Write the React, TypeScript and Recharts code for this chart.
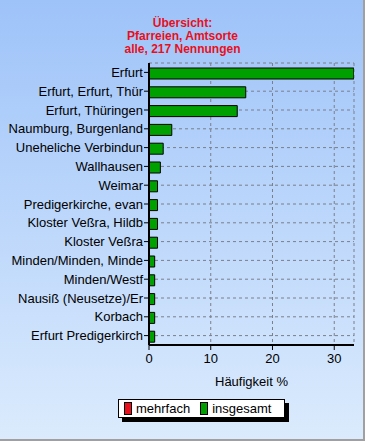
import React from 'react';
import { BarChart, Bar, XAxis, YAxis, CartesianGrid } from 'recharts';

const orte = [
  'Erfurt',
  'Erfurt, Erfurt, Thür',
  'Erfurt, Thüringen',
  'Naumburg, Burgenland',
  'Uneheliche Verbindun',
  'Wallhausen',
  'Weimar',
  'Predigerkirche, evan',
  'Kloster Veßra, Hildb',
  'Kloster Veßra',
  'Minden/Minden, Minde',
  'Minden/Westf',
  'Nausiß (Neusetze)/Er',
  'Korbach',
  'Erfurt Predigerkirch',
];

// Häufigkeit in % of 217 Nennungen
const insgesamt = [33.18, 15.67, 14.29, 3.69, 2.3, 1.84, 1.38, 1.38, 1.38, 1.38, 0.92, 0.92, 0.92, 0.92, 0.92];
const mehrfach = [0, 0, 0, 0, 0, 0, 0, 0, 0, 0, 0, 0, 0, 0, 0];

const xTicks = [0, 10, 20, 30];
const titleLines = ['Übersicht:', 'Pfarreien, Amtsorte', 'alle, 217 Nennungen'];

const RED = '#e8101c';
const GREEN = '#00a000';
const FONT = 'Arial, "Liberation Sans", sans-serif';

const data = orte.map((name, i) => ({ name, mehrfach: mehrfach[i], insgesamt: insgesamt[i] }));

// plain svg text so long names stay on one line
const OrtTick = (props: any) => {
  const { x, y, payload } = props;
  return (
    <text x={x} y={y} dy="0.36em" textAnchor="end" fill="#000" fontSize={13} fontFamily={FONT}>
      {payload.value}
    </text>
  );
};

const LegendBox: React.FC = () => (
  <div
    style={{
      position: 'absolute', left: 118, top: 399, width: 165, height: 17,
      background: '#fff', border: '1px solid #000', boxShadow: '4px 4px 0 #000',
      fontFamily: FONT, fontSize: 13, display: 'flex', alignItems: 'center',
    }}
  >
    <span style={{ width: 6, height: 11, background: RED, border: '1px solid #000', marginLeft: 5, marginRight: 4 }} />
    <span style={{ color: '#000' }}>mehrfach</span>
    <span style={{ width: 6, height: 11, background: GREEN, border: '1px solid #000', marginLeft: 10, marginRight: 4 }} />
    <span style={{ color: '#000' }}>insgesamt</span>
  </div>
);

const App: React.FC = () => {
  return (
    <div
      style={{
        position: 'absolute', left: 0, top: 0, width: 365, height: 441, boxSizing: 'border-box',
        background: 'linear-gradient(#9ec3f9, #dbebfd)',
        borderRight: '2px solid #a0a0a0', borderBottom: '2px solid #a0a0a0',
      }}
    >
      <div
        style={{
          position: 'absolute', top: 17, left: 0, width: 365, textAlign: 'center',
          color: RED, fontFamily: FONT, fontWeight: 'bold', fontSize: 12, lineHeight: '13px',
        }}
      >
        {titleLines.map(t => <div key={t}>{t}</div>)}
      </div>
      <div style={{ position: 'absolute', left: 0, top: 0 }}>
        <BarChart
          width={365}
          height={441}
          data={data}
          layout="vertical"
          margin={{ top: 63, right: 11, left: 0, bottom: 46 }}
          barGap={2}
        >
          <CartesianGrid strokeDasharray="3 3" stroke="#7a7f8a" />
          <XAxis
            type="number"
            domain={[0, 33.2]}
            ticks={xTicks}
            allowDataOverflow
            tick={{ fill: '#000', fontSize: 13, fontFamily: FONT }}
            tickLine={{ stroke: '#000' }}
            axisLine={{ stroke: '#000', strokeWidth: 2 }}
            tickSize={5}
            tickMargin={4}
            height={50}
            label={{ value: 'Häufigkeit %', position: 'insideBottom', offset: 9, fill: '#000', fontSize: 13, fontFamily: FONT }}
          />
          <XAxis xAxisId="top" orientation="top" type="number" domain={[0, 33.2]} height={0} tick={false} tickLine={false} axisLine={{ stroke: '#000' }} />
          <YAxis
            type="category"
            dataKey="name"
            width={149}
            interval={0}
            tick={<OrtTick />}
            tickLine={{ stroke: '#000' }}
            axisLine={{ stroke: '#000', strokeWidth: 2 }}
            tickSize={5}
            tickMargin={1}
          />
          <YAxis yAxisId="right" orientation="right" type="category" dataKey="name" width={0} tick={false} tickLine={false} axisLine={{ stroke: '#000' }} />
          <Bar dataKey="mehrfach" fill={RED} stroke="#000" barSize={1} isAnimationActive={false} />
          <Bar dataKey="insgesamt" fill={GREEN} stroke="#000" barSize={11} isAnimationActive={false} />
        </BarChart>
      </div>
      <LegendBox />
    </div>
  );
};

export default App;
